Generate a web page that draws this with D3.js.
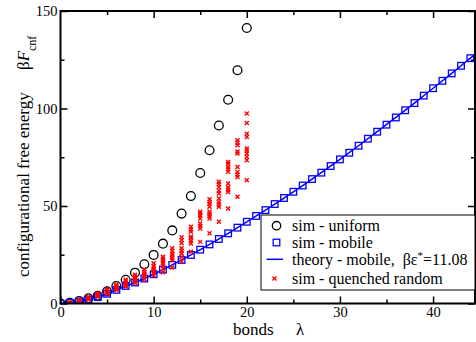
<!DOCTYPE html>
<html>
<head>
<meta charset="utf-8">
<script src="https://cdn.jsdelivr.net/npm/d3@7"></script>
<style>
  body { margin: 0; background: #fff; }
  svg { display: block; }
  text { font-family: "Liberation Serif", "Times New Roman", serif; fill: #000; }
</style>
</head>
<body>
<svg width="476" height="342"></svg>
<script>
// bonds lambda for the uniform simulation and its free energy
const uniformX = d3.range(0, 21);
const uniformY = [0, 0.3, 1.3, 2.7, 4.0, 6.2, 9.0, 12.2, 15.8, 20.1, 24.9,
                  30.7, 37.5, 46.1, 55.1, 66.9, 78.6, 91.3, 104.5, 119.6, 141.3];

// mobile simulation (squares)
const mobileX = d3.range(0, 45);
const mobileY = [0, 0.3, 1.0, 2.0, 3.3, 5.0, 7.0, 9.0, 10.8, 12.8, 15.0,
                 17.4, 19.8, 22.3, 24.9, 27.6, 30.3, 33.1, 36.0, 38.9, 41.9,
                 44.9, 47.9, 51.0, 54.1, 57.3, 60.5, 63.8, 67.1, 70.5, 73.9,
                 77.3, 80.9, 84.5, 88.1, 91.7, 95.4, 99.1, 102.8, 106.6, 110.4,
                 114.2, 118.0, 121.9, 125.8];

// theory curve for the mobile case
const theoryX = [0, 2, 4, 6, 8, 10, 12, 14, 16, 18, 20, 22, 24, 26, 28, 30,
                 32, 34, 36, 38, 40, 42, 44, 46];
const theoryY = [0, 1.0, 3.3, 7.0, 10.8, 15.0, 19.8, 24.9, 30.3, 36.0, 41.9,
                 47.9, 54.1, 60.5, 67.1, 73.9, 80.9, 88.1, 95.4, 102.8, 110.4,
                 118.0, 125.8, 133.6];

// quenched random samples, one list per bond number 1..20
const quenchedY = [
  [0.2, 0.3, 0.4, 0.5, 0.6, 0.4],
  [1.0, 1.2, 1.4, 1.6, 1.8, 1.3, 1.1],
  [2.2, 2.5, 2.8, 3.1, 3.4, 2.6, 2.0],
  [3.6, 4.0, 4.4, 4.8, 5.2, 4.2, 3.4],
  [5.3, 5.8, 6.3, 6.8, 7.3, 6.0, 5.0],
  [7.2, 7.8, 8.4, 9.0, 9.6, 8.1, 6.9],
  [9.0, 9.8, 10.6, 11.4, 12.2, 10.2, 8.7],
  [10.8, 11.8, 12.8, 13.8, 14.8, 12.3, 10.5],
  [12.5, 13.8, 15.0, 16.2, 17.4, 14.4, 12.4],
  [14.2, 15.5, 17.2, 18.0, 19.2, 20.7, 16.6],
  [16.0, 18.0, 19.5, 20.7, 21.8, 23.0, 24.0],
  [18.5, 22.3, 23.3, 24.8, 25.5, 27.0, 28.4],
  [21.5, 23.8, 25.7, 27.0, 28.3, 31.0, 32.5, 34.0],
  [26.5, 30.8, 32.0, 33.5, 34.2, 36.8, 38.0, 39.3],
  [31.6, 38.5, 39.7, 41.0, 43.6, 45.0, 46.2, 47.0],
  [36.0, 43.6, 44.8, 46.0, 47.0, 49.6, 51.0, 52.2, 53.5],
  [41.9, 49.6, 50.8, 52.1, 53.9, 56.4, 57.8, 59.8, 61.2, 62.4],
  [48.7, 57.2, 58.4, 59.5, 61.5, 67.5, 68.8, 70.0, 71.5, 72.6],
  [54.7, 64.9, 66.2, 67.5, 70.0, 76.9, 78.0, 81.2, 82.5, 83.7],
  [63.2, 73.5, 75.2, 76.9, 78.4, 79.5, 85.4, 87.1, 92.6, 97.4]
];

const xMajor = [0, 10, 20, 30, 40];
const xMinor = [5, 15, 25, 35];
const yMajor = [0, 50, 100, 150];
const yMinor = [25, 75, 125];

const marginLeft = 60.5, marginTop = 11;
const width = 475 - marginLeft;
const height = 303.5 - marginTop;

const svg = d3.select("svg");

const x = d3.scaleLinear().domain([0, 44.5]).range([0, width]);
const y = d3.scaleLinear().domain([0, 150]).range([height, 0]);

const chart = svg.append("g")
    .attr("transform", `translate(${marginLeft}, ${marginTop})`);

svg.append("defs").append("clipPath").attr("id", "clip")
  .append("rect").attr("width", width).attr("height", height);

// axes with inward ticks on all four sides
function styleAxis(g) {
  g.select(".domain").remove();
  g.selectAll("line").attr("stroke", "#000").attr("stroke-width", 1.5);
  g.selectAll("text").style("font-size", "14.5px")
    .style("font-family", '"Liberation Serif", serif');
}

chart.append("g").attr("transform", `translate(0,${height})`)
  .call(d3.axisBottom(x).tickValues(xMajor).tickSize(-7).tickSizeOuter(0).tickPadding(3))
  .call(styleAxis);
chart.append("g").attr("transform", `translate(0,${height})`)
  .call(d3.axisBottom(x).tickValues(xMinor).tickSize(-4).tickSizeOuter(0).tickFormat(""))
  .call(styleAxis);
chart.append("g")
  .call(d3.axisTop(x).tickValues(xMajor.slice(1)).tickSize(-7).tickSizeOuter(0).tickFormat(""))
  .call(styleAxis);
chart.append("g")
  .call(d3.axisTop(x).tickValues(xMinor).tickSize(-4).tickSizeOuter(0).tickFormat(""))
  .call(styleAxis);

chart.append("g")
  .call(d3.axisLeft(y).tickValues(yMajor).tickSize(-7).tickSizeOuter(0).tickPadding(3))
  .call(styleAxis);
chart.append("g")
  .call(d3.axisLeft(y).tickValues(yMinor).tickSize(-4).tickSizeOuter(0).tickFormat(""))
  .call(styleAxis);
chart.append("g").attr("transform", `translate(${width},0)`)
  .call(d3.axisRight(y).tickValues(yMajor).tickSize(-7).tickSizeOuter(0).tickFormat(""))
  .call(styleAxis);
chart.append("g").attr("transform", `translate(${width},0)`)
  .call(d3.axisRight(y).tickValues(yMinor).tickSize(-4).tickSizeOuter(0).tickFormat(""))
  .call(styleAxis);

const plot = chart.append("g").attr("clip-path", "url(#clip)");

// uniform: black open circles
plot.selectAll(".uni")
  .data(uniformX)
  .enter().append("circle")
    .attr("cx", (d) => x(d))
    .attr("cy", (d, i) => y(uniformY[i]))
    .attr("r", 4.4)
    .attr("fill", "none")
    .attr("stroke", "#000")
    .attr("stroke-width", 1.3);

// mobile: blue open squares
plot.selectAll(".mob")
  .data(mobileX)
  .enter().append("rect")
    .attr("x", (d) => x(d) - 3.3)
    .attr("y", (d, i) => y(mobileY[i]) - 3.3)
    .attr("width", 6.6)
    .attr("height", 6.6)
    .attr("fill", "none")
    .attr("stroke", "#0000ff")
    .attr("stroke-width", 1.3);

// theory line
const line = d3.line()
  .x((d) => x(d[0]))
  .y((d) => y(d[1]))
  .curve(d3.curveMonotoneX);

plot.append("path")
  .datum(theoryX.map((d, i) => [d, theoryY[i]]))
  .attr("d", line)
  .attr("fill", "none")
  .attr("stroke", "#0000ff")
  .attr("stroke-width", 1.5);

// quenched random: red crosses
const quenched = [];
quenchedY.forEach((vals, i) => vals.forEach((v) => quenched.push([i + 1, v])));

const cross = "M-2,-2L2,2M-2,2L2,-2";
plot.selectAll(".q")
  .data(quenched)
  .enter().append("path")
    .attr("transform", (d) => `translate(${x(d[0])},${y(d[1])})`)
    .attr("d", cross)
    .attr("stroke", "#ff0000")
    .attr("stroke-width", 1.4);

// frame
chart.append("rect")
  .attr("width", width)
  .attr("height", height)
  .attr("fill", "none")
  .attr("stroke", "#000")
  .attr("stroke-width", 2);

// legend
const legend = svg.append("g");
legend.append("rect")
  .attr("x", 261).attr("y", 215)
  .attr("width", 214).attr("height", 75)
  .attr("fill", "#fff")
  .attr("stroke", "#000")
  .attr("stroke-width", 1);

const rows = [225.7, 242.5, 259.3, 278.5];
const sx = 276.5, tx = 292;

legend.append("circle").attr("cx", sx).attr("cy", rows[0]).attr("r", 4.2)
  .attr("fill", "none").attr("stroke", "#000").attr("stroke-width", 1.3);
legend.append("rect").attr("x", sx - 3.3).attr("y", rows[1] - 3.3)
  .attr("width", 6.6).attr("height", 6.6)
  .attr("fill", "none").attr("stroke", "#0000ff").attr("stroke-width", 1.3);
legend.append("line").attr("x1", 266.5).attr("x2", 283).attr("y1", rows[2]).attr("y2", rows[2])
  .attr("stroke", "#0000ff").attr("stroke-width", 1.5);
legend.append("path").attr("transform", `translate(${sx - 2},${rows[3]})`)
  .attr("d", cross).attr("stroke", "#ff0000").attr("stroke-width", 1.4);

function legText(row, txt) {
  return legend.append("text").attr("x", tx).attr("y", rows[row] + 5.3)
    .style("font-size", "16px").text(txt);
}
legText(0, "sim - uniform");
legText(1, "sim - mobile");
const th = legText(2, "theory - mobile,  ");
th.append("tspan").text("\u00a0\u03b2\u03b5");
th.append("tspan").attr("baseline-shift", "super").style("font-size", "11px").text("*");
th.append("tspan").text("=11.08");
legText(3, "sim - quenched random");

// x axis label
const xl = svg.append("text").attr("y", 334.5).style("font-size", "17px");
xl.append("tspan").attr("x", 233).text("bonds");
xl.append("tspan").attr("x", 296).text("\u03bb");

// y axis label
svg.append("text")
  .attr("transform", "translate(29,277) rotate(-90)")
  .style("font-size", "17px")
  .text("configurational free energy");

const yl = svg.append("text")
  .attr("transform", "translate(29,70) rotate(-90)")
  .style("font-size", "17px");
yl.append("tspan").text("\u03b2");
yl.append("tspan").style("font-style", "italic").text("F");
yl.append("tspan").attr("baseline-shift", "sub").style("font-size", "12px").text("cnf");
</script>
</body>
</html>
